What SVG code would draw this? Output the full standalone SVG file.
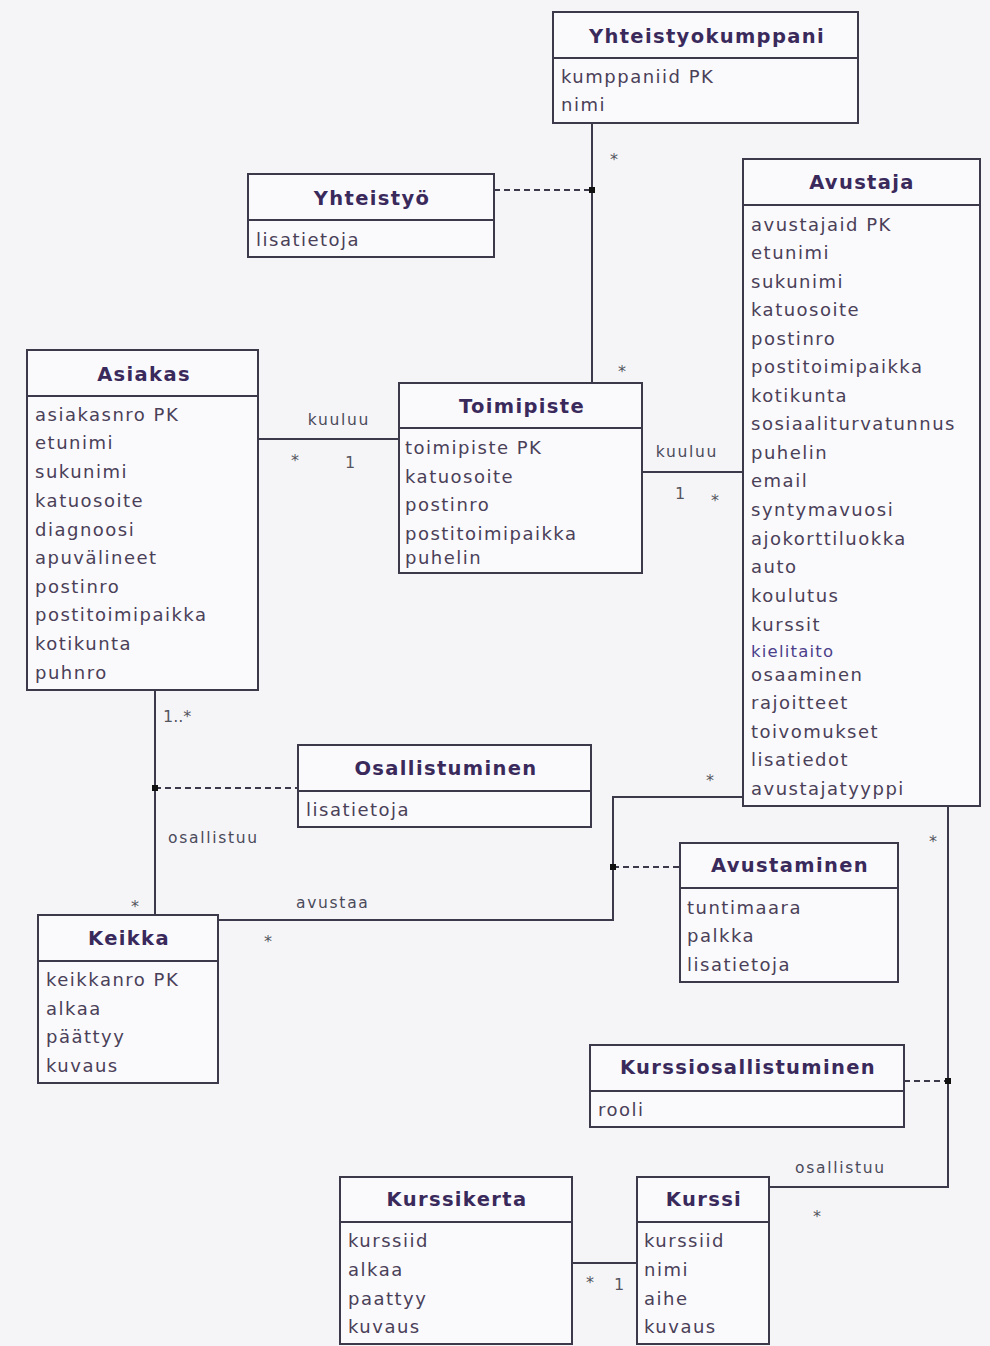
<svg xmlns="http://www.w3.org/2000/svg" width="990" height="1346" viewBox="0 0 990 1346">
<style>
.box{fill:#fafafc;stroke:#3c3a4a;stroke-width:2}
.div{stroke:#3c3a4a;stroke-width:2}
.t{font-family:"DejaVu Sans",Verdana,sans-serif;font-weight:bold;font-size:19.5px;letter-spacing:1.35px;fill:#3a2a5c;text-anchor:middle}
.a{font-family:"DejaVu Sans",Verdana,sans-serif;font-size:18px;letter-spacing:1.5px;fill:#4a4058}
.l{font-family:"DejaVu Sans",Verdana,sans-serif;font-size:15.5px;letter-spacing:1.7px;fill:#4a4a5a}
.m{font-family:"DejaVu Sans",Verdana,sans-serif;font-size:16px;fill:#55555f}
.c{fill:none;stroke:#3c3a4a;stroke-width:2}
.d{fill:none;stroke:#3c3a4a;stroke-width:2;stroke-dasharray:6 4}
.dot{fill:#111}
</style>
<rect width="990" height="1346" fill="#f5f5f8"/>

<g id="connectors">
<line class="c" x1="592" y1="123" x2="592" y2="383"/>
<line class="d" x1="494" y1="190" x2="592" y2="190"/>
<rect class="dot" x="589" y="187" width="6" height="6"/>
<text class="m" x="610" y="165">*</text>
<text class="m" x="618" y="377">*</text>

<line class="c" x1="258" y1="439" x2="399" y2="439"/>
<text class="l" x="339" y="425" text-anchor="middle">kuuluu</text>
<text class="m" x="291" y="466">*</text>
<text class="m" x="345" y="468">1</text>

<line class="c" x1="642" y1="472" x2="743" y2="472"/>
<text class="l" x="687" y="457" text-anchor="middle">kuuluu</text>
<text class="m" x="675" y="499">1</text>
<text class="m" x="711" y="506">*</text>

<line class="c" x1="155" y1="690" x2="155" y2="915"/>
<line class="d" x1="155" y1="788" x2="298" y2="788"/>
<rect class="dot" x="152" y="785" width="6" height="6"/>
<text class="m" x="163" y="722">1..*</text>
<text class="l" x="168" y="843">osallistuu</text>
<text class="m" x="131" y="912">*</text>

<path class="c" d="M218 920 H613 V797 H743"/>
<line class="d" x1="613" y1="867" x2="680" y2="867"/>
<rect class="dot" x="610" y="864" width="6" height="6"/>
<text class="l" x="296" y="908">avustaa</text>
<text class="m" x="264" y="947">*</text>
<text class="m" x="706" y="786">*</text>

<path class="c" d="M948 806 V1187 H769"/>
<line class="d" x1="904" y1="1081" x2="948" y2="1081"/>
<rect class="dot" x="945" y="1078" width="6" height="6"/>
<text class="l" x="795" y="1173">osallistuu</text>
<text class="m" x="929" y="847">*</text>
<text class="m" x="813" y="1222">*</text>

<line class="c" x1="572" y1="1263" x2="637" y2="1263"/>
<text class="m" x="586" y="1288">*</text>
<text class="m" x="614" y="1290">1</text>
</g>

<g id="Yhteistyokumppani">
<rect class="box" x="553" y="12" width="305" height="111"/>
<line class="div" x1="553" y1="58" x2="858" y2="58"/>
<text class="t" x="707" y="43">Yhteistyokumppani</text>
<text class="a" x="561" y="83">kumppaniid PK</text>
<text class="a" x="561" y="111">nimi</text>
</g>

<g id="Yhteistyo">
<rect class="box" x="248" y="174" width="246" height="83"/>
<line class="div" x1="248" y1="220" x2="494" y2="220"/>
<text class="t" x="372" y="205">Yhteistyö</text>
<text class="a" x="256" y="246">lisatietoja</text>
</g>

<g id="Avustaja">
<rect class="box" x="743" y="159" width="237" height="647"/>
<line class="div" x1="743" y1="205" x2="980" y2="205"/>
<text class="t" x="862" y="189">Avustaja</text>
<text class="a" x="751" y="231">avustajaid PK</text>
<text class="a" x="751" y="259">etunimi</text>
<text class="a" x="751" y="288">sukunimi</text>
<text class="a" x="751" y="316">katuosoite</text>
<text class="a" x="751" y="345">postinro</text>
<text class="a" x="751" y="373">postitoimipaikka</text>
<text class="a" x="751" y="402">kotikunta</text>
<text class="a" x="751" y="430">sosiaaliturvatunnus</text>
<text class="a" x="751" y="459">puhelin</text>
<text class="a" x="751" y="487">email</text>
<text class="a" x="751" y="516">syntymavuosi</text>
<text class="a" x="751" y="545">ajokorttiluokka</text>
<text class="a" x="751" y="573">auto</text>
<text class="a" x="751" y="602">koulutus</text>
<text class="a" x="751" y="631">kurssit</text>
<text class="a" x="751" y="657" style="fill:#4b3f8a;font-size:16.5px;letter-spacing:1.2px">kielitaito</text>
<text class="a" x="751" y="681">osaaminen</text>
<text class="a" x="751" y="709">rajoitteet</text>
<text class="a" x="751" y="738">toivomukset</text>
<text class="a" x="751" y="766">lisatiedot</text>
<text class="a" x="751" y="795">avustajatyyppi</text>
</g>

<g id="Asiakas">
<rect class="box" x="27" y="350" width="231" height="340"/>
<line class="div" x1="27" y1="396" x2="258" y2="396"/>
<text class="t" x="144" y="381">Asiakas</text>
<text class="a" x="35" y="421">asiakasnro PK</text>
<text class="a" x="35" y="449">etunimi</text>
<text class="a" x="35" y="478">sukunimi</text>
<text class="a" x="35" y="507">katuosoite</text>
<text class="a" x="35" y="536">diagnoosi</text>
<text class="a" x="35" y="564">apuvälineet</text>
<text class="a" x="35" y="593">postinro</text>
<text class="a" x="35" y="621">postitoimipaikka</text>
<text class="a" x="35" y="650">kotikunta</text>
<text class="a" x="35" y="679">puhnro</text>
</g>

<g id="Toimipiste">
<rect class="box" x="399" y="383" width="243" height="190"/>
<line class="div" x1="399" y1="428" x2="642" y2="428"/>
<text class="t" x="522" y="413">Toimipiste</text>
<text class="a" x="405" y="454">toimipiste PK</text>
<text class="a" x="405" y="483">katuosoite</text>
<text class="a" x="405" y="511">postinro</text>
<text class="a" x="405" y="540">postitoimipaikka</text>
<text class="a" x="405" y="564">puhelin</text>
</g>

<g id="Osallistuminen">
<rect class="box" x="298" y="745" width="293" height="82"/>
<line class="div" x1="298" y1="791" x2="591" y2="791"/>
<text class="t" x="446" y="775">Osallistuminen</text>
<text class="a" x="306" y="816">lisatietoja</text>
</g>

<g id="Avustaminen">
<rect class="box" x="680" y="843" width="218" height="139"/>
<line class="div" x1="680" y1="888" x2="898" y2="888"/>
<text class="t" x="790" y="872">Avustaminen</text>
<text class="a" x="687" y="914">tuntimaara</text>
<text class="a" x="687" y="942">palkka</text>
<text class="a" x="687" y="971">lisatietoja</text>
</g>

<g id="Keikka">
<rect class="box" x="38" y="915" width="180" height="168"/>
<line class="div" x1="38" y1="961" x2="218" y2="961"/>
<text class="t" x="129" y="945">Keikka</text>
<text class="a" x="46" y="986">keikkanro PK</text>
<text class="a" x="46" y="1015">alkaa</text>
<text class="a" x="46" y="1043">päättyy</text>
<text class="a" x="46" y="1072">kuvaus</text>
</g>

<g id="Kurssiosallistuminen">
<rect class="box" x="590" y="1045" width="314" height="82"/>
<line class="div" x1="590" y1="1091" x2="904" y2="1091"/>
<text class="t" x="748" y="1074">Kurssiosallistuminen</text>
<text class="a" x="598" y="1116">rooli</text>
</g>

<g id="Kurssikerta">
<rect class="box" x="340" y="1177" width="232" height="167"/>
<line class="div" x1="340" y1="1222" x2="572" y2="1222"/>
<text class="t" x="457" y="1206">Kurssikerta</text>
<text class="a" x="348" y="1247">kurssiid</text>
<text class="a" x="348" y="1276">alkaa</text>
<text class="a" x="348" y="1305">paattyy</text>
<text class="a" x="348" y="1333">kuvaus</text>
</g>

<g id="Kurssi">
<rect class="box" x="637" y="1177" width="132" height="167"/>
<line class="div" x1="637" y1="1222" x2="769" y2="1222"/>
<text class="t" x="704" y="1206">Kurssi</text>
<text class="a" x="644" y="1247">kurssiid</text>
<text class="a" x="644" y="1276">nimi</text>
<text class="a" x="644" y="1305">aihe</text>
<text class="a" x="644" y="1333">kuvaus</text>
</g>
</svg>
